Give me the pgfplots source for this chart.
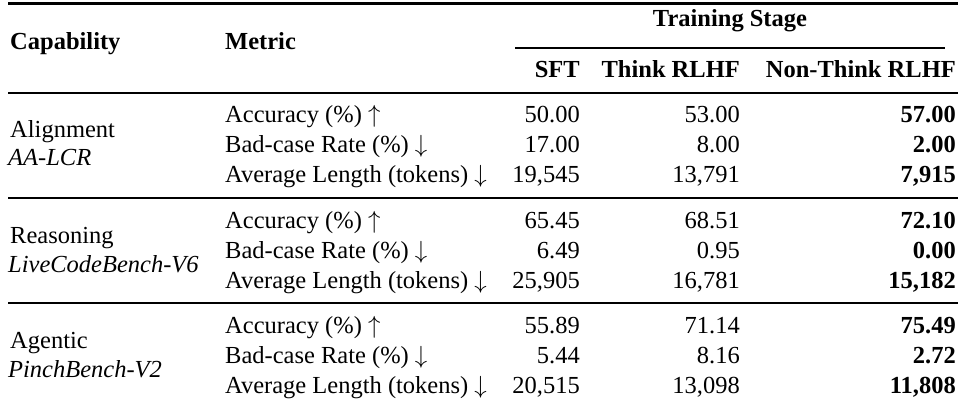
\documentclass[border=0pt]{standalone}
\usepackage{fontspec}
\setmainfont{Liberation Serif}
\usepackage{pgfplots}
\pgfplotsset{compat=1.18}
\usepackage{pgfplotstable}

\pgfplotstableread{
y sft think non
122 50.00 53.00 57.00
152 17.00 8.00 2.00
182 19,545 13,791 7,915
228 65.45 68.51 72.10
258 6.49 0.95 0.00
288 25,905 16,781 15,182
333 55.89 71.14 75.49
363 5.44 8.16 2.72
393 20,515 13,098 11,808
}\datatab

\newcommand\fs{\fontsize{24.5bp}{29bp}\selectfont}

\begin{document}
\begin{tikzpicture}
\begin{axis}[width=962bp,height=406bp,scale only axis,
  xmin=0,xmax=962,ymin=0,ymax=406,y dir=reverse,hide axis,clip=false,
  nodes near coords style={anchor=base east,inner sep=0pt,font=\fs}]
\addplot[draw=none,mark=none,nodes near coords,point meta=explicit symbolic]
  table[x expr=580,y=y,meta=sft]{\datatab};
\addplot[draw=none,mark=none,nodes near coords,point meta=explicit symbolic]
  table[x expr=740,y=y,meta=think]{\datatab};
\addplot[draw=none,mark=none,nodes near coords,point meta=explicit symbolic,
  every node near coord/.append style={font=\fs\bfseries}]
  table[x expr=956,y=y,meta=non]{\datatab};
% rules
\draw[line width=3bp] (axis cs:8,4) -- (axis cs:958,4);
\draw[line width=1.5bp] (axis cs:515,48) -- (axis cs:945,48);
\draw[line width=1.8bp] (axis cs:8,93) -- (axis cs:958,93);
\draw[line width=1.8bp] (axis cs:8,198) -- (axis cs:958,198);
\draw[line width=1.8bp] (axis cs:8,303) -- (axis cs:958,303);
% headers
\node[anchor=base west,inner sep=0pt,font=\fs\bfseries] at (axis cs:10,50) {Capability};
\node[anchor=base west,inner sep=0pt,font=\fs\bfseries] at (axis cs:225,50) {Metric};
\node[anchor=base,inner sep=0pt,font=\fs\bfseries] at (axis cs:730,27) {Training Stage};
\node[anchor=base east,inner sep=0pt,font=\fs\bfseries] at (axis cs:580,78) {SFT};
\node[anchor=base east,inner sep=0pt,font=\fs\bfseries] at (axis cs:740,78) {Think RLHF};
\node[anchor=base east,inner sep=0pt,font=\fs\bfseries] at (axis cs:956,78) {Non-Think RLHF};
% capability
\node[anchor=base west,inner sep=0pt,font=\fs] at (axis cs:10,137) {Alignment};
\node[anchor=base west,inner sep=0pt,font=\fs\itshape] at (axis cs:8,165) {AA-LCR};
\node[anchor=base west,inner sep=0pt,font=\fs] at (axis cs:10,243) {Reasoning};
\node[anchor=base west,inner sep=0pt,font=\fs\itshape] at (axis cs:8,272) {LiveCodeBench-V6};
\node[anchor=base west,inner sep=0pt,font=\fs] at (axis cs:10,348) {Agentic};
\node[anchor=base west,inner sep=0pt,font=\fs\itshape] at (axis cs:8,377) {PinchBench-V2};
% metrics
\node[anchor=base west,inner sep=0pt,font=\fs] at (axis cs:225,122) {Accuracy (\%) $\uparrow$};
\node[anchor=base west,inner sep=0pt,font=\fs] at (axis cs:225,228) {Accuracy (\%) $\uparrow$};
\node[anchor=base west,inner sep=0pt,font=\fs] at (axis cs:225,333) {Accuracy (\%) $\uparrow$};
\node[anchor=base west,inner sep=0pt,font=\fs] at (axis cs:225,152) {Bad-case Rate (\%) $\downarrow$};
\node[anchor=base west,inner sep=0pt,font=\fs] at (axis cs:225,258) {Bad-case Rate (\%) $\downarrow$};
\node[anchor=base west,inner sep=0pt,font=\fs] at (axis cs:225,363) {Bad-case Rate (\%) $\downarrow$};
\node[anchor=base west,inner sep=0pt,font=\fs] at (axis cs:225,182) {Average Length (tokens) $\downarrow$};
\node[anchor=base west,inner sep=0pt,font=\fs] at (axis cs:225,288) {Average Length (tokens) $\downarrow$};
\node[anchor=base west,inner sep=0pt,font=\fs] at (axis cs:225,393) {Average Length (tokens) $\downarrow$};
\end{axis}
\pgfresetboundingbox
\path (current axis.south west) rectangle (current axis.north east);
\end{tikzpicture}
\end{document}
